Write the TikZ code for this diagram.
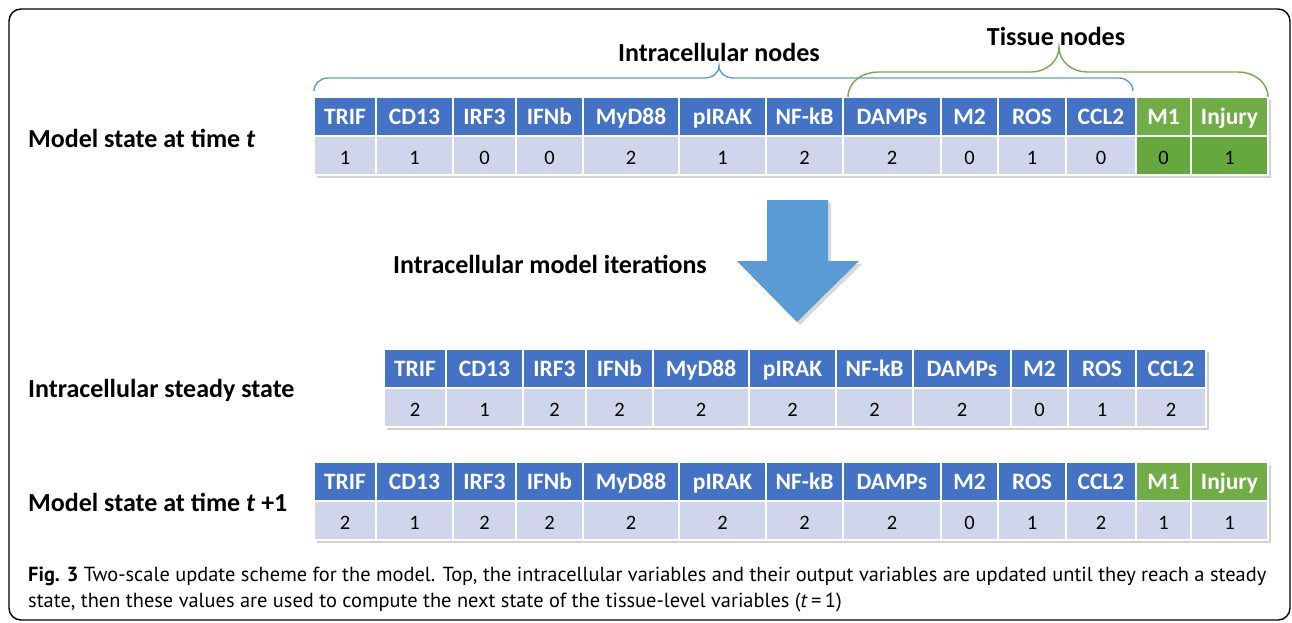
\documentclass[tikz,border=0pt]{standalone}
\usepackage{fontspec}
\setmainfont{Carlito}
\newfontfamily\capfont{PT Sans}
\usetikzlibrary{positioning, backgrounds}
\definecolor{hblue}{HTML}{4472C4}
\definecolor{vblue}{HTML}{CFD5EA}
\definecolor{hgreen}{HTML}{70AD47}
\definecolor{vgreen}{HTML}{65A83E}
\definecolor{arrowblue}{HTML}{5B9BD5}
\tikzset{
    hcell/.style = {rectangle, draw=white, line width=1.2pt, inner sep=0pt, outer sep=0pt, minimum height=39pt, text height=15pt, text depth=0pt, text=white, font=\fontsize{23.5}{25}\selectfont\bfseries},
    vcell/.style = {rectangle, draw=white, line width=1.2pt, inner sep=0pt, outer sep=0pt, minimum height=39pt, text height=18pt, text depth=0pt, text=black, font=\fontsize{20.5}{22}\selectfont},
    rowlabel/.style = {anchor=base west, inner sep=0pt, font=\fontsize{26}{28}\selectfont\bfseries},
    grouptitle/.style = {anchor=base, inner sep=0pt, font=\fontsize{26}{28}\selectfont\bfseries},
    tabshadow/.style = {fill=black!18},
    bracepath/.style = {line width=1.4pt}
}

\begin{document}
\begin{tikzpicture}[x=1pt, y=-1pt]
\useasboundingbox (0,0) rectangle (1292,622);
\draw[line width=1.4pt, rounded corners=12pt] (9,9) rectangle (1290,620);

% model state at time t
\foreach \lab/\xa/\xb/\val/\hf/\vf [count=\i] in {
    TRIF/314/376/1/hblue/vblue, CD13/376/453/1/hblue/vblue, IRF3/453/516/0/hblue/vblue,
    IFNb/516/583/0/hblue/vblue, MyD88/583/679/2/hblue/vblue, pIRAK/679/766/1/hblue/vblue,
    NF-kB/766/843/2/hblue/vblue, DAMPs/843/941/2/hblue/vblue, M2/941/998/0/hblue/vblue,
    ROS/998/1066/1/hblue/vblue, CCL2/1066/1136/0/hblue/vblue, M1/1136/1191/0/hgreen/vgreen,
    Injury/1191/1268/1/hgreen/vgreen}{
    \pgfmathsetmacro\cw{\xb-\xa}
    \node[hcell, fill=\hf, minimum width=\cw pt] (th-\i) at ({(\xa+\xb)/2},116.5) {\lab};
    \node[vcell, fill=\vf, minimum width=\cw pt, below=0pt of th-\i] (tv-\i) {\val};
}

% intracellular steady state
\foreach \lab/\xa/\xb/\val [count=\i] in {
    TRIF/384/446/2, CD13/446/523/1, IRF3/523/586/2, IFNb/586/653/2, MyD88/653/749/2,
    pIRAK/749/836/2, NF-kB/836/913/2, DAMPs/913/1011/2, M2/1011/1068/0, ROS/1068/1136/1,
    CCL2/1136/1206/2}{
    \pgfmathsetmacro\cw{\xb-\xa}
    \node[hcell, fill=hblue, minimum width=\cw pt] (sh-\i) at ({(\xa+\xb)/2},368.5) {\lab};
    \node[vcell, fill=vblue, minimum width=\cw pt, below=0pt of sh-\i] (sv-\i) {\val};
}

% model state at time t+1
\foreach \lab/\xa/\xb/\val/\hf [count=\i] in {
    TRIF/314/376/2/hblue, CD13/376/453/1/hblue, IRF3/453/516/2/hblue,
    IFNb/516/583/2/hblue, MyD88/583/679/2/hblue, pIRAK/679/766/2/hblue,
    NF-kB/766/843/2/hblue, DAMPs/843/941/2/hblue, M2/941/998/0/hblue,
    ROS/998/1066/1/hblue, CCL2/1066/1136/2/hblue, M1/1136/1191/1/hgreen,
    Injury/1191/1268/1/hgreen}{
    \pgfmathsetmacro\cw{\xb-\xa}
    \node[hcell, fill=\hf, minimum width=\cw pt] (nh-\i) at ({(\xa+\xb)/2},481.5) {\lab};
    \node[vcell, fill=vblue, minimum width=\cw pt, below=0pt of nh-\i] (nv-\i) {\val};
}

\begin{scope}[on background layer]
\fill[tabshadow] ([xshift=3pt,yshift=-3pt]th-1.north west) rectangle ([xshift=3pt,yshift=-3pt]tv-13.south east);
\fill[tabshadow] ([xshift=3pt,yshift=-3pt]sh-1.north west) rectangle ([xshift=3pt,yshift=-3pt]sv-11.south east);
\fill[tabshadow] ([xshift=3pt,yshift=-3pt]nh-1.north west) rectangle ([xshift=3pt,yshift=-3pt]nv-13.south east);
\end{scope}

\node[rowlabel] (lt) at (28,147) {Model state at time \textit{t}};
\node[rowlabel] (ls) at (28,397) {Intracellular steady state};
\node[rowlabel] (ln) at (28,511) {Model state at time \textit{t} +1};

% braces
\draw[bracepath, draw=arrowblue] (314,91) to[out=90,in=180] (328,78) -- (705,78) to[out=0,in=-90] (719,66)
    to[out=-90,in=180] (733,78) -- (1119,78) to[out=0,in=90] (1133,91);
\draw[bracepath, draw=hgreen] (848,97) to[out=90,in=180] (878,72) -- (1031,72) to[out=0,in=-90] (1059,47)
    to[out=-90,in=180] (1087,72) -- (1238,72) to[out=0,in=90] (1268,97);
\node[grouptitle] (gi) at (719,61) {Intracellular nodes};
\node[grouptitle] (gt) at (1056,45) {Tissue nodes};

% update arrow
\fill[black!15] (770,203) -- (831,203) -- (831,264) -- (862,264) -- (800,325) -- (740,264) -- (770,264) -- cycle;
\fill[arrowblue] (767,200) -- (828,200) -- (828,261) -- (859,261) -- (797,322) -- (737,261) -- (767,261) -- cycle;
\node[rowlabel] (li) at (393,273) {Intracellular model iterations};

\node[anchor=base west, inner sep=0pt, align=left, font=\capfont\fontsize{20.4}{26}\selectfont] (cap) at (28,607)
    {\textbf{Fig. 3} Two-scale update scheme for the model. Top, the intracellular variables and their output variables are updated until they reach a steady\\
    state, then these values are used to compute the next state of the tissue-level variables (\textit{t}\,=\,1)};
\end{tikzpicture}
\end{document}
